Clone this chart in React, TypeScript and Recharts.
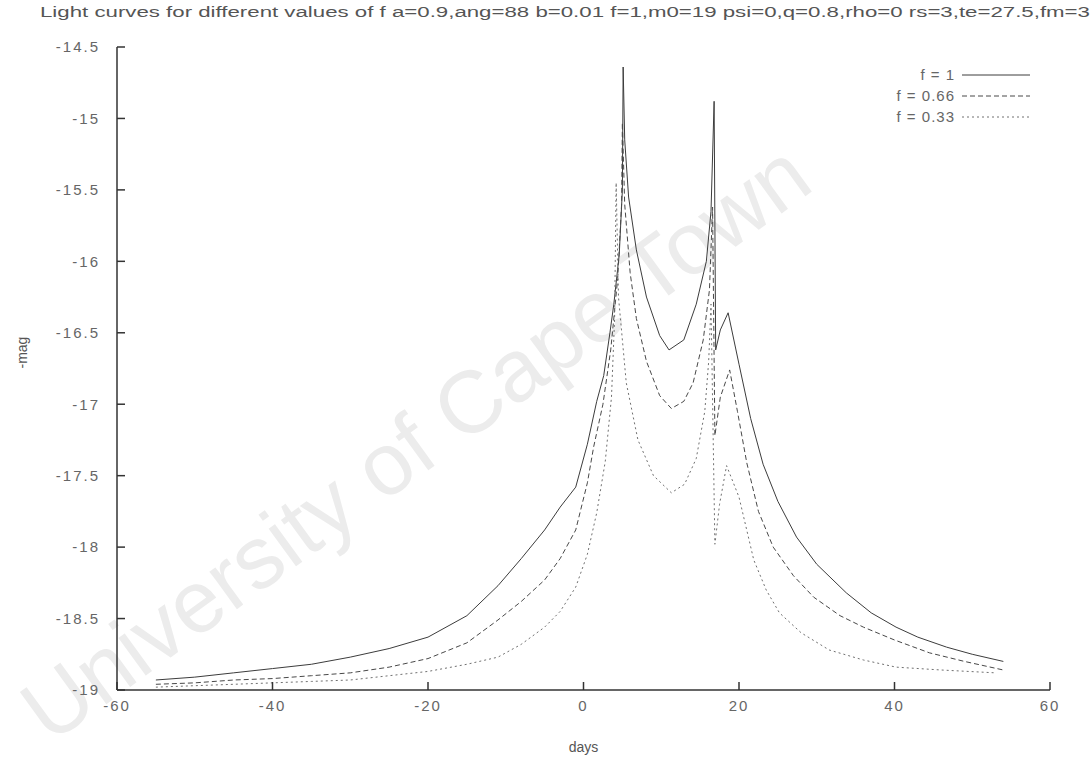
import React from 'react'
import { LineChart, Line, XAxis, YAxis } from 'recharts'

const title =
  'Light curves for different values of f a=0.9,ang=88 b=0.01 f=1,m0=19 psi=0,q=0.8,rho=0 rs=3,te=27.5,fm=3'

const xTicks = [-60, -40, -20, 0, 20, 40, 60]
const yTicks = [-19, -18.5, -18, -17.5, -17, -16.5, -16, -15.5, -15, -14.5]

const seriesNames = ['f = 1', 'f = 0.66', 'f = 0.33']
const seriesDash = ['', '5 3', '2 3']
const seriesColor = ['#3c3c3c', '#484848', '#707070']

// f = 1 (solid)
const daysF1 = [
  -55, -50, -45, -40, -35, -30, -25, -20, -15, -11, -8, -5, -3, -1, 0.5, 1.7, 2.6, 3.4, 3.9, 4.6, 5.0,
  5.1, 5.3, 5.8, 6.8, 8.1, 9.8, 11, 12.9, 14.5, 15.8, 16.4, 16.8, 17.0, 17.6, 18.6, 20, 21.5, 23.1, 25,
  27.4, 30, 33.8, 37, 40.2, 43, 46.7, 50, 54,
]
const magF1 = [
  -18.93, -18.91, -18.88, -18.85, -18.82, -18.77, -18.71, -18.63, -18.48, -18.27, -18.08, -17.88, -17.72,
  -17.58, -17.28, -16.98, -16.8, -16.5, -16.3, -15.95, -15.5, -14.64, -15.15, -15.55, -15.92, -16.25,
  -16.52, -16.62, -16.55, -16.3, -16.0, -15.65, -14.88, -16.62, -16.48, -16.36, -16.72, -17.1, -17.42,
  -17.68, -17.93, -18.12, -18.32, -18.46, -18.56, -18.63, -18.7, -18.75, -18.8,
]

// f = 0.66 (dashed)
const daysF066 = [
  -55, -50, -45, -40, -35, -30, -25, -20, -15, -11, -8, -5, -3, -1, 0.5, 1.3, 2.5, 3.5, 4.4, 4.9, 5.0,
  5.3, 6.0, 6.8, 8.1, 9.8, 11.3, 12.9, 14.1, 15.4, 16.2, 16.6, 16.9, 17.6, 18.8, 19.8, 21, 22.5, 24.4,
  27, 29.6, 33, 36, 40, 44.5, 49, 54,
]
const magF066 = [
  -18.96, -18.95, -18.93, -18.92, -18.9, -18.88, -18.84, -18.78, -18.67, -18.51, -18.38, -18.23, -18.08,
  -17.88, -17.55, -17.3, -17.0, -16.62, -16.12, -15.6, -15.03, -15.6, -16.08, -16.4, -16.7, -16.94,
  -17.03, -16.98, -16.85, -16.55, -16.2, -15.62, -17.22, -16.95, -16.76, -17.05, -17.41, -17.75, -18.0,
  -18.2, -18.35, -18.48, -18.56, -18.65, -18.74, -18.8, -18.86,
]

// f = 0.33 (dotted)
const daysF033 = [
  -55, -50, -45, -40, -35, -30, -25, -20, -15, -11, -8, -5, -3, -1, 0.5, 1.7, 2.8, 3.6, 4.0, 4.2, 4.5,
  5.5, 7, 9, 11.3, 13, 14.5, 15.6, 16.1, 16.4, 16.9, 17.5, 18.4, 20, 21.9, 23.5, 25.2, 28, 31.6, 36,
  40.2, 46, 53,
]
const magF033 = [
  -18.98, -18.97, -18.96, -18.95, -18.94, -18.93, -18.9, -18.87, -18.82, -18.77, -18.68, -18.56, -18.45,
  -18.28, -18.05, -17.76, -17.4, -16.95, -16.4, -15.45, -16.25, -16.85, -17.25, -17.5, -17.62, -17.56,
  -17.38, -17.05, -16.7, -16.3, -17.98, -17.7, -17.43, -17.65, -18.09, -18.3, -18.46, -18.6, -18.72,
  -18.79, -18.84, -18.86, -18.88,
]

const toPoints = (days: number[], mags: number[]) => days.map((d, i) => ({ day: d, mag: mags[i] }))

const series = [toPoints(daysF1, magF1), toPoints(daysF066, magF066), toPoints(daysF033, magF033)]

const font = '"Liberation Sans", Arial, sans-serif'
const tickStyle = { fontSize: 15, fill: '#666', fontFamily: font, letterSpacing: 2 }

// gnuplot-style key, drawn over the plot's top right corner
function LegendBox() {
  return (
    <svg width={190} height={70} style={{ position: 'absolute', left: 850, top: 62 }}>
      {seriesNames.map((name, i) => (
        <g key={name}>
          <text
            x={105}
            y={13 + i * 21}
            dy={5}
            textAnchor="end"
            fontSize={15}
            fontFamily={font}
            letterSpacing={1}
            fill="#666"
          >
            {name}
          </text>
          <line
            x1={112}
            x2={180}
            y1={13 + i * 21}
            y2={13 + i * 21}
            stroke={seriesColor[i]}
            strokeWidth={1}
            strokeDasharray={seriesDash[i] || undefined}
          />
        </g>
      ))}
    </svg>
  )
}

export default function App() {
  return (
    <div style={{ position: 'absolute', left: 0, top: 0, width: 1092, height: 760, background: '#fff', overflow: 'hidden' }}>
      <svg width={1092} height={760} style={{ position: 'absolute', left: 0, top: 0 }}>
        <text
          x={50}
          y={745}
          textAnchor="start"
          fontSize={88}
          fontFamily={font}
          fill="#ececec"
          transform="rotate(-36 50 745)"
        >
          University of Cape Town
        </text>
      </svg>
      <div style={{ position: 'absolute', left: 0, top: 0 }}>
        <LineChart width={1092} height={760} margin={{ top: 47, right: 42, bottom: 0, left: 0 }}>
          <XAxis
            dataKey="day"
            type="number"
            domain={[-60, 60]}
            ticks={xTicks}
            allowDataOverflow
            height={70}
            stroke="#333"
            strokeWidth={1.5}
            tickSize={-8}
            tickMargin={18}
            tick={tickStyle}
            label={{ value: 'days', position: 'insideBottom', offset: 8, fontSize: 14, fill: '#555', fontFamily: font }}
          />
          <XAxis
            xAxisId="top"
            orientation="top"
            dataKey="day"
            type="number"
            domain={[-60, 60]}
            ticks={xTicks}
            height={0}
            stroke="#333"
            strokeWidth={1.5}
            tickSize={-8}
            tick={false}
          />
          <YAxis
            type="number"
            domain={[-19, -14.5]}
            ticks={yTicks}
            allowDataOverflow
            width={117}
            stroke="#333"
            strokeWidth={1.5}
            tickSize={-8}
            tickMargin={25}
            tick={tickStyle}
            label={{ value: '-mag', angle: -90, position: 'insideLeft', offset: 22, fontSize: 14, fill: '#555', fontFamily: font }}
          />
          <YAxis
            yAxisId="right"
            orientation="right"
            type="number"
            domain={[-19, -14.5]}
            ticks={yTicks}
            width={0}
            stroke="#333"
            strokeWidth={1.5}
            tickSize={-8}
            tick={false}
          />
          {series.map((pts, i) => (
            <Line
              key={seriesNames[i]}
              data={pts}
              dataKey="mag"
              name={seriesNames[i]}
              type="linear"
              stroke={seriesColor[i]}
              strokeWidth={1}
              strokeDasharray={seriesDash[i] || undefined}
              dot={false}
              isAnimationActive={false}
            />
          ))}
        </LineChart>
      </div>
      <LegendBox />
      <svg width={1092} height={30} style={{ position: 'absolute', left: 0, top: 0 }}>
        <text
          x={40}
          y={17}
          fontSize={14}
          fontFamily={font}
          fill="#555"
          textLength={1050}
          lengthAdjust="spacingAndGlyphs"
        >
          {title}
        </text>
      </svg>
    </div>
  )
}
